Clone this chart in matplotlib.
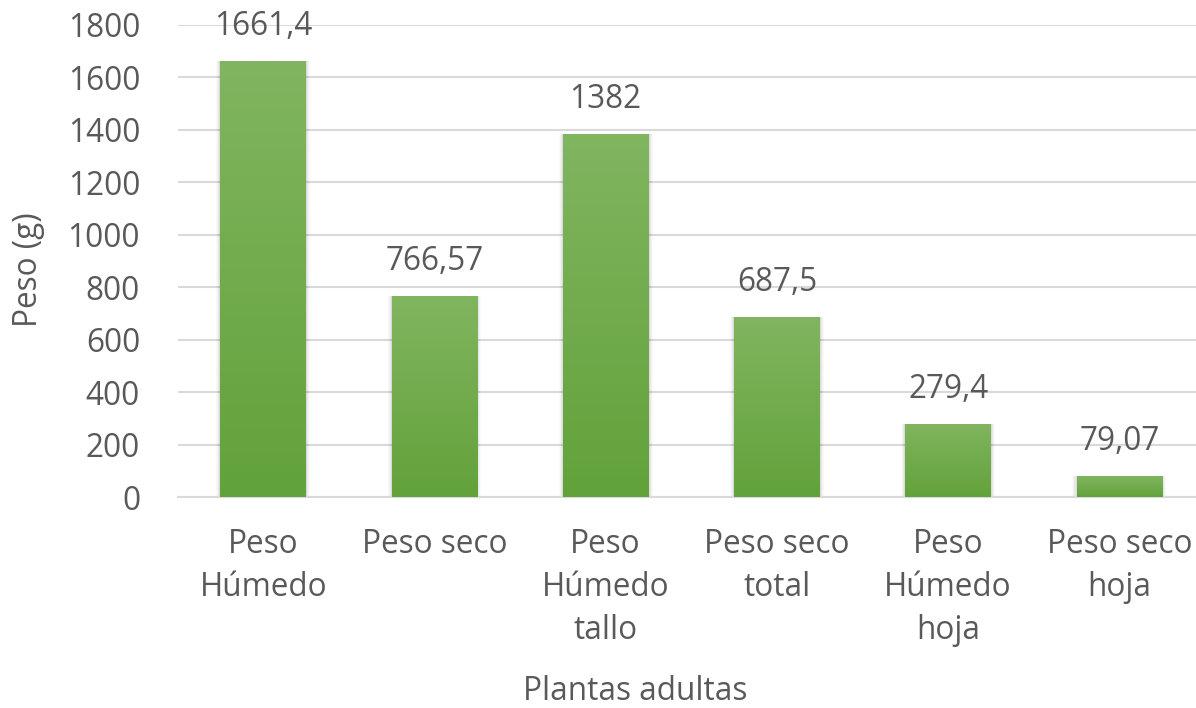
import matplotlib
matplotlib.use("Agg")
import matplotlib.pyplot as plt
import numpy as np
from matplotlib.colors import LinearSegmentedColormap
from matplotlib.patches import Rectangle

plt.rcParams['font.family'] = ['Open Sans', 'DejaVu Sans']

categories = ["Peso\nHúmedo", "Peso seco", "Peso\nHúmedo\ntallo",
              "Peso seco\ntotal", "Peso\nHúmedo\nhoja", "Peso seco\nhoja"]
values = [1661.4, 766.57, 1382, 687.5, 279.4, 79.07]
value_labels = ["1661,4", "766,57", "1382", "687,5", "279,4", "79,07"]
yticks = [0, 200, 400, 600, 800, 1000, 1200, 1400, 1600, 1800]

text_color = "#595959"
grid_color = "#D9D9D9"
fs = 22.7

fig = plt.figure(figsize=(11.96, 7.08), dpi=100)
ax = fig.add_axes([0.1485, 0.298, 0.859, 0.667])

x = np.arange(len(categories))
width = 0.5
ax.set_xlim(-0.5, len(categories) - 0.5)
ax.set_ylim(0, 1800)

# gradient fill: lighter green at top, deeper green at bottom
cmap = LinearSegmentedColormap.from_list("grn", ["#62A23A", "#81B560"])
grad = np.linspace(0, 1, 256).reshape(-1, 1)

bars = ax.bar(x, values, width=width, color="none", zorder=3)
for b, v in zip(bars, values):
    x0 = b.get_x()
    w = b.get_width()
    # soft drop shadow
    for i, a in enumerate([0.05, 0.04, 0.03, 0.02]):
        dx = 0.006 * (i + 1)
        ax.add_patch(Rectangle((x0 - dx, -12 * (i + 1) * 0.4), w + 2 * dx,
                               v + 12 * (i + 1) * 0.4, facecolor="black",
                               edgecolor="none", alpha=a, zorder=2))
    im = ax.imshow(grad, cmap=cmap, aspect="auto", origin="lower",
                   extent=(x0, x0 + w, 0, v), zorder=3)
    im.set_clip_path(b)

for xi, v, lab in zip(x, values, value_labels):
    ax.annotate(lab, (xi, v), xytext=(0, 13), textcoords="offset points",
                ha="center", va="bottom", fontsize=fs, color=text_color)

ax.set_yticks(yticks)
ax.set_yticklabels([str(t) for t in yticks])
ax.set_xticks(x)
ax.set_xticklabels(categories, linespacing=1.4)
ax.tick_params(axis="both", length=0, labelsize=fs, labelcolor=text_color)
ax.tick_params(axis="x", pad=22)
ax.tick_params(axis="y", pad=27)

ax.grid(axis="y", color=grid_color, linewidth=1.5, zorder=0)
ax.set_axisbelow(True)
for s in ["top", "right", "left"]:
    ax.spines[s].set_visible(False)
ax.spines["bottom"].set_color(grid_color)
ax.spines["bottom"].set_linewidth(1.5)

ax.set_ylabel("Peso (g)", fontsize=fs, color=text_color, labelpad=16, y=0.481)
ax.set_xlabel("Plantas adultas", fontsize=fs, color=text_color, labelpad=20.5,
              x=0.445)

fig.savefig("out.png", dpi=100, facecolor="white")
